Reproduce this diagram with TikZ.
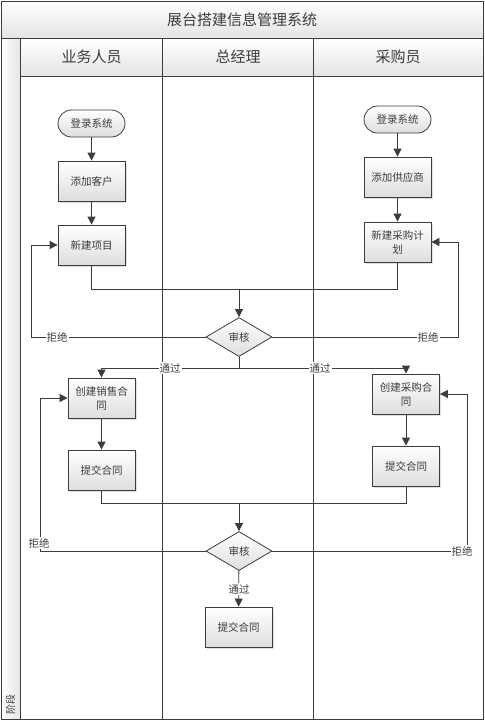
\documentclass[tikz,border=0pt]{standalone}
\usepackage{fontspec}
\setmainfont{Noto Sans CJK SC}
\usepackage{tikz}
\usetikzlibrary{arrows.meta,shapes.geometric,shadows,calc}
\definecolor{ln_gray}{RGB}{60, 60, 60}
\definecolor{bx_gray}{RGB}{222, 222, 222}
\definecolor{hd_gray}{RGB}{228, 228, 228}
\tikzstyle{bx}=[rectangle,draw=ln_gray,top color=white,bottom color=bx_gray,
  line width=0.8pt,inner sep=2pt,minimum width=67pt,minimum height=40pt,align=center,
  font=\fontsize{10.5}{14}\selectfont,text=ln_gray,
  drop shadow={opacity=0.25,shadow xshift=1.5pt,shadow yshift=-1.5pt}]
\tikzstyle{tm}=[rectangle,rounded corners=13.5pt,draw=ln_gray,top color=white,bottom color=bx_gray,
  line width=0.8pt,inner sep=2pt,minimum width=67pt,minimum height=27pt,
  font=\fontsize{10.5}{14}\selectfont,text=ln_gray]
\tikzstyle{dm}=[diamond,draw=ln_gray,top color=white,bottom color=bx_gray,
  line width=0.8pt,inner sep=0pt,minimum width=66pt,minimum height=39pt,
  font=\fontsize{10.5}{14}\selectfont,text=ln_gray]
\tikzstyle{lb}=[fill=white,inner sep=1pt,font=\fontsize{10.5}{14}\selectfont,text=ln_gray]
\tikzstyle{ln}=[draw=ln_gray,line width=0.8pt]
\tikzstyle{ar}=[ln,-{Triangle[length=8pt,width=8pt]}]

\begin{document}
\begin{tikzpicture}[x=1pt,y=-1pt]
        \useasboundingbox (0,0) rectangle (485,721);
        \shade[top color=white,bottom color=hd_gray] (1,1) rectangle (483,38);
        \shade[left color=white,right color=hd_gray] (1,38) rectangle (20.5,719);
        \shade[top color=white,bottom color=hd_gray] (20.5,38) rectangle (483,76);
        \draw[ln,line width=1pt] (1,1) rectangle (483,719);
        \draw[ln] (1,38) to (483,38);
        \draw[ln] (20.5,76) to (483,76);
        \draw[ln] (20.5,38) to (20.5,719);
        \draw[ln] (162.5,38) to (162.5,719);
        \draw[ln] (313,38) to (313,719);
        \node[font=\fontsize{15}{18}\selectfont,text=ln_gray] (t0) at (242,19.5) {展台搭建信息管理系统};
        \node[font=\fontsize{15}{18}\selectfont,text=ln_gray] (t1) at (91.5,57) {业务人员};
        \node[font=\fontsize{15}{18}\selectfont,text=ln_gray] (t2) at (238,57) {总经理};
        \node[font=\fontsize{15}{18}\selectfont,text=ln_gray] (t3) at (398,57) {采购员};
        \node[rotate=90,font=\fontsize{10}{12}\selectfont,text=ln_gray] (t4) at (10.5,704) {阶段};

        \node[style=tm] (0) at (91.5,123.5) {登录系统};
		\node[style=bx] (1) at (91.5,181) {添加客户};
		\node[style=bx] (2) at (91.5,245) {新建项目};
		\node[style=tm] (3) at (397.5,119.5) {登录系统};
		\node[style=bx] (4) at (397.5,177) {添加供应商};
		\node[style=bx] (5) at (397.5,242) {新建采购计\\划};
		\node[style=dm] (6) at (239,337) {审核};
		\node[style=bx] (7) at (101.5,398) {创建销售合\\同};
		\node[style=bx] (8) at (101.5,470) {提交合同};
		\node[style=bx] (9) at (406,394) {创建采购合\\同};
		\node[style=bx] (10) at (406,466) {提交合同};
		\node[style=dm] (11) at (239,551) {审核};
		\node[style=bx] (12) at (238.5,627) {提交合同};
        \coordinate (m1) at (239,289);
        \coordinate (r1) at (31,337);
        \coordinate (r2) at (458,337);
        \coordinate (p1) at (239,368);
        \coordinate (m2) at (239,503);
        \coordinate (r3) at (40,551);
        \coordinate (r4) at (467,551);
        \draw[style=ar] (0) to (1);
		\draw[style=ar] (1) to (2);
		\draw[style=ar] (3) to (4);
		\draw[style=ar] (4) to (5);
		\draw[style=ln] (2) |- (m1);
		\draw[style=ln] (5) |- (m1);
		\draw[style=ar] (m1) to (6);
		\draw[style=ar] (6) -- (r1) |- (2);
		\draw[style=ar] (6) -- (r2) |- (5);
		\draw[style=ar] (6) -- (p1) -| (7);
		\draw[style=ar] (p1) -| (9);
		\draw[style=ar] (7) to (8);
		\draw[style=ar] (9) to (10);
		\draw[style=ln] (8) |- (m2);
		\draw[style=ln] (10) |- (m2);
		\draw[style=ar] (m2) to (11);
		\draw[style=ar] (11) -- (r3) |- (7);
		\draw[style=ar] (11) -- (r4) |- (9);
		\draw[style=ar] (11) to (12);
        \node[style=lb] (13) at (57,337) {拒绝};
        \node[style=lb] (14) at (428,337) {拒绝};
        \node[style=lb] (15) at (170,368) {通过};
        \node[style=lb] (16) at (320,368) {通过};
        \node[style=lb] (17) at (39,543) {拒绝};
        \node[style=lb] (18) at (462,551) {拒绝};
        \node[style=lb] (19) at (239,589) {通过};
    \end{tikzpicture}
\end{document}
